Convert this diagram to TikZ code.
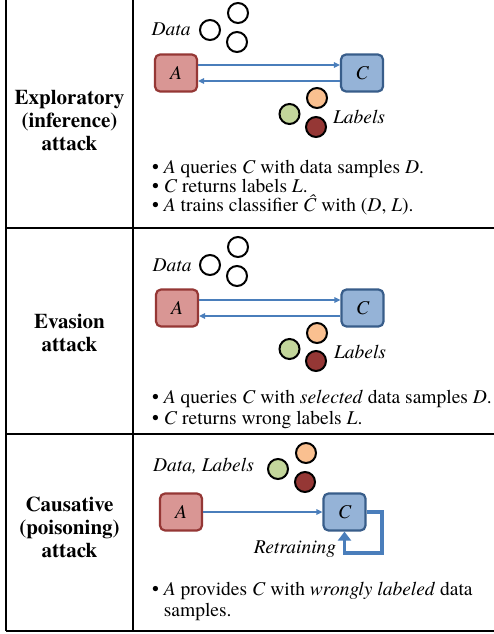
\documentclass[tikz,border=0pt]{standalone}
\usepackage{fontspec}
\IfFontExistsTF{texgyretermes-regular.otf}{%
  \setmainfont{texgyretermes}[Extension=.otf, UprightFont=*-regular, BoldFont=*-bold, ItalicFont=*-italic, BoldItalicFont=*-bolditalic]%
}{%
  \setmainfont{Liberation Serif}%
}
\usetikzlibrary{arrows.meta}
\definecolor{afill}{HTML}{D99694}
\definecolor{adraw}{HTML}{953735}
\definecolor{cfill}{HTML}{95B3D7}
\definecolor{cdraw}{HTML}{385D8A}
\definecolor{flowblue}{HTML}{4A7EBB}
\definecolor{lgreen}{HTML}{C3D69B}
\definecolor{lorange}{HTML}{FAC090}
\definecolor{lred}{HTML}{953735}
\newcommand{\mybul}{•\ }
\tikzset{
  agent/.style={rounded corners=5pt, line width=2.2pt, minimum width=42pt, minimum height=37pt, inner sep=0pt, font=\fontsize{19.5}{20}\selectfont\itshape},
  abox/.style={agent, fill=afill, draw=adraw},
  cbox/.style={agent, fill=cfill, draw=cdraw},
  dot/.style={circle, minimum size=20pt, inner sep=0pt, line width=2pt, draw=black},
  wdot/.style={dot, fill=white},
  gdot/.style={dot, fill=lgreen},
  odot/.style={dot, fill=lorange},
  rdot/.style={dot, fill=lred},
  flow/.style={draw=flowblue, line width=1.7pt, -{Triangle[length=6pt,width=5.5pt]}},
  retrain/.style={draw=flowblue, line width=3.5pt, -{Triangle[length=9pt,width=13pt]}},
  lbl/.style={font=\fontsize{19.5}{20}\selectfont\itshape, inner sep=0pt},
  bline/.style={anchor=base west, inner sep=0pt, font=\fontsize{19.5}{20}\selectfont},
  head/.style={align=center, font=\fontsize{21}{23}\selectfont\bfseries, inner sep=0pt},
  gridline/.style={line width=1.3pt, draw=black}
}
\begin{document}
\begin{tikzpicture}[x=1pt,y=-1pt]
\useasboundingbox[fill=white] (0,0) rectangle (494,634);

% table grid
\draw[gridline] (6,0) -- (6,631);
\draw[gridline] (133,0) -- (133,631);
\draw[gridline] (6,228) -- (494,228);
\draw[gridline] (6,434) -- (494,434);
\draw[gridline, line width=2pt] (6,631) -- (494,631);

% row headings
\node[head] (h1) at (69.5,121) {Exploratory\\(inference)\\attack};
\node[head] (h2) at (69.5,333) {Evasion\\attack};
\node[head] (h3) at (69.5,527) {Causative\\(poisoning)\\attack};

% ---------- panel 1 ----------
\node[lbl] (data1) at (171,29.5) {Data};
\node[wdot] (d1a) at (210,30) {};
\node[wdot] (d1b) at (238,13) {};
\node[wdot] (d1c) at (237,42) {};
\node[abox] (A1) at (176,73) {A};
\node[cbox] (C1) at (362,73) {C};
\draw[flow] ([yshift=8pt]A1.east) -- ([yshift=8pt]C1.west);
\draw[flow] ([yshift=-8pt]C1.west) -- ([yshift=-8pt]A1.east);
\node[gdot] (l1a) at (289.5,114) {};
\node[odot] (l1b) at (317,98) {};
\node[rdot] (l1c) at (316,127) {};
\node[lbl] (labels1) at (359,117) {Labels};
\node[bline] (t1a) at (152,173) {\mybul\textit{A} queries \textit{C} with data samples \textit{D}.};
\node[bline] (t1b) at (152,192) {\mybul\textit{C} returns labels \textit{L}.};
\node[bline] (t1c) at (152,211) {\mybul\textit{A} trains classifier \textit{Ĉ} with (\textit{D}, \textit{L}).};

% ---------- panel 2 ----------
\node[lbl] (data2) at (172,265) {Data};
\node[wdot] (d2a) at (210,265) {};
\node[wdot] (d2b) at (238,247) {};
\node[wdot] (d2c) at (237,276) {};
\node[abox] (A2) at (177,308) {A};
\node[cbox] (C2) at (362.5,308) {C};
\draw[flow] ([yshift=8pt]A2.east) -- ([yshift=8pt]C2.west);
\draw[flow] ([yshift=-8pt]C2.west) -- ([yshift=-8pt]A2.east);
\node[gdot] (l2a) at (289.5,349) {};
\node[odot] (l2b) at (317,333) {};
\node[rdot] (l2c) at (316,361) {};
\node[lbl] (labels2) at (360,352) {Labels};
\node[bline] (t2a) at (152,403) {\mybul\textit{A} queries \textit{C} with \textit{selected} data samples \textit{D}.};
\node[bline] (t2b) at (152,424) {\mybul\textit{C} returns wrong labels \textit{L}.};

% ---------- panel 3 ----------
\node[lbl, anchor=base] (data3) at (203.5,471) {Data, Labels};
\node[gdot] (l3a) at (278,469) {};
\node[odot] (l3b) at (306,453) {};
\node[rdot] (l3c) at (305,482) {};
\node[abox] (A3) at (181,512) {A};
\node[cbox] (C3) at (344.5,512) {C};
\draw[flow] (A3.east) -- (C3.west);
\coordinate (loopcorner) at (382,553);
\draw[retrain] (C3.east) -| (loopcorner) -| (C3.south);
\node[lbl, anchor=base] (retr) at (295,553) {Retraining};
\node[bline] (t3a) at (152,595) {\mybul\textit{A} provides \textit{C} with \textit{wrongly labeled} data};
\node[bline] (t3b) at (152,616) {\hphantom{\mybul}samples.};
\end{tikzpicture}
\end{document}
